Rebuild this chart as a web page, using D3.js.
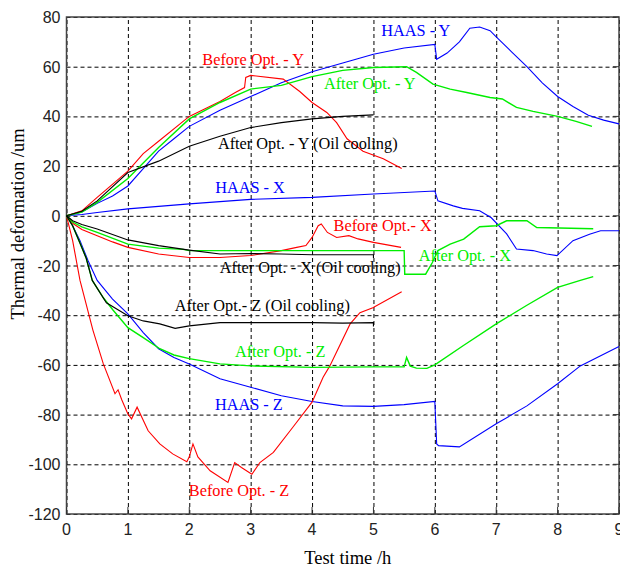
<!DOCTYPE html>
<html>
<head>
<meta charset="utf-8">
<script src="https://cdn.jsdelivr.net/npm/d3@7"></script>
<style>
	body { margin: 0; background: #fff; }
	svg { display: block; }
	.tick-label { font-family: "Liberation Sans", Arial, sans-serif; font-size: 16px; fill: #222; }
	.axis-title, .curve-label { font-family: "Liberation Serif", "Times New Roman", serif; }
</style>
</head>
<body>
<div id="chart"></div>
<script>
	/* thermal deformation vs test time, 12 measured curves */

	// x ticks (h) and y ticks (um)
	var xTicks = [0, 1, 2, 3, 4, 5, 6, 7, 8, 9];
	var yTicks = [-120, -100, -80, -60, -40, -20, 0, 20, 40, 60, 80];

	// each curve: [time h, deformation um]
	var haasY = [[0,0],[0.25,1.5],[0.5,5],[0.75,8],[1,12],[1.25,19],[1.5,26],[1.75,31],[2,36],[2.5,42.5],[3,48],[3.5,53.5],[4,58],[4.5,61.5],[5,65],[5.5,67.5],[6,69],[6.03,63],[6.2,65.5],[6.4,70],[6.57,75.5],[6.73,76],[6.9,74.5],[7,72],[7.25,66],[7.5,60],[7.75,53.5],[8,48],[8.25,44],[8.5,40.5],[8.75,38.5],[9,37]];
	var haasX = [[0,0],[0.25,0.5],[0.5,1.3],[1,2.8],[1.5,3.8],[2,4.8],[3,6.6],[4,7.4],[5,8.8],[6,10],[6.05,6],[6.3,4],[6.45,3],[6.73,2],[6.92,-0.8],[7.17,-7.3],[7.33,-13.4],[7.6,-14],[7.82,-15.4],[7.99,-16],[8.25,-10],[8.52,-7.4],[8.7,-6],[9,-6]];
	var haasZ = [[0,0],[0.1,-4],[0.22,-10],[0.35,-18],[0.5,-26],[0.75,-33.5],[1,-39.5],[1.25,-47],[1.5,-53.5],[1.75,-57],[2,-59.6],[2.5,-65.6],[3,-69],[3.5,-72.4],[4,-74.7],[4.5,-76.5],[5,-76.7],[5.5,-76],[6,-74.7],[6.03,-91.8],[6.06,-92.5],[6.4,-93],[7,-83.7],[7.5,-76.5],[8,-67.6],[8.37,-60.4],[9,-52.6]];

	var beforeY = [[0,0],[0.25,2],[0.5,7.4],[1,18],[1.25,25],[1.5,30],[2,40],[2.5,46],[2.75,49.6],[2.9,51.6],[2.92,55.7],[3.0,56.5],[3.53,55],[3.8,50],[4.0,45.6],[4.24,41.6],[4.4,37.5],[4.57,31],[4.83,26],[5.16,23],[5.46,19]];
	var beforeX = [[0,0],[0.1,-3],[0.25,-5.5],[0.5,-8],[0.75,-10.5],[1,-12.7],[1.5,-15.4],[2,-16.8],[2.5,-16.8],[3,-16],[3.5,-14],[3.75,-12.7],[3.9,-12],[4.0,-8.7],[4.1,-4],[4.15,-3.3],[4.25,-6.7],[4.4,-8.7],[4.6,-8],[4.75,-9.3],[5,-10.7],[5.45,-12.7]];
	var beforeZ = [[0,0],[0.1,-10],[0.22,-26],[0.43,-46],[0.6,-59.6],[0.79,-71.6],[0.84,-70],[0.9,-74],[1.0,-79.7],[1.06,-81.7],[1.15,-77],[1.33,-86.5],[1.52,-91.8],[1.73,-95.8],[1.96,-99],[2.0,-97],[2.06,-91.8],[2.14,-97],[2.34,-102.6],[2.63,-107.3],[2.74,-99.3],[2.85,-101.3],[3.02,-104],[3.15,-99.3],[3.37,-95.2],[3.69,-85],[4.0,-75],[4.18,-65],[4.29,-60.4],[4.62,-43.5],[4.78,-39],[4.99,-37],[5.46,-30.6]];

	var afterY = [[0,0],[0.25,1.5],[0.5,5.4],[1,15],[1.5,27.5],[2,39],[2.5,45.6],[3,51],[3.5,52.5],[4,56],[4.5,58.5],[5,59.7],[5.54,60],[5.7,57.7],[5.97,53],[6.25,51],[6.52,49.6],[6.9,47.6],[7.1,47],[7.33,43.6],[7.6,42],[8,40],[8.3,38],[8.56,36]];
	var afterX = [[0,0],[0.1,-2.5],[0.25,-4.5],[0.5,-6.7],[1,-11.4],[1.5,-13],[1.9,-13.5],[2,-14],[5.5,-14],[5.51,-23.5],[5.85,-23.5],[5.96,-18.8],[6.05,-14],[6.25,-11.4],[6.47,-9.4],[6.73,-4.4],[7,-4],[7.17,-2],[7.5,-2],[7.66,-4.7],[8.58,-5.2]];
	var afterZ = [[0,0],[0.1,-4],[0.22,-11],[0.32,-17],[0.42,-26],[0.6,-33],[0.76,-38],[1,-45],[1.25,-49],[1.52,-53.5],[1.75,-56],[2,-57.5],[2.5,-59.6],[3,-60.4],[4,-61],[5,-60.8],[5.5,-60.8],[5.54,-57],[5.6,-60.5],[5.7,-61.3],[5.87,-61.4],[6,-60],[6.46,-52.3],[7,-43.5],[7.5,-36],[8,-28.8],[8.37,-26],[8.58,-24.5]];

	var oilY = [[0,0],[0.25,1.8],[0.5,6],[1,17.4],[1.5,22],[2,28],[2.5,32],[3,35.5],[3.5,37.5],[4,39],[4.5,40],[5,40.6]];
	var oilX = [[0,0],[0.1,-2],[0.25,-3.5],[0.5,-5.3],[1,-9.7],[1.5,-12],[2,-13.8],[2.5,-15.4],[3,-15.2],[3.5,-15.4],[4,-15.7],[5,-15.7],[5,-17]];
	var oilZ = [[0,0],[0.1,-4],[0.22,-11],[0.32,-17],[0.42,-26],[0.65,-35],[1,-40.2],[1.25,-42.3],[1.52,-43.5],[1.77,-45.3],[2,-44.3],[2.5,-43],[3,-43],[4,-43],[4.5,-43.2],[5,-43],[5,-44.5]];

	// curve names, the array each one uses and its colour
	var curveNames = ["HAAS - Y", "HAAS - X", "HAAS - Z", "Before Opt. - Y", "Before Opt.- X", "Before Opt. - Z",
		"After Opt. - Y", "After Opt. - X", "After Opt. - Z",
		"After Opt. - Y (Oil cooling)", "After Opt. - X (Oil cooling)", "After Opt.- Z (Oil cooling)"];
	var curveData = [haasY, haasX, haasZ, beforeY, beforeX, beforeZ, afterY, afterX, afterZ, oilY, oilX, oilZ];
	var curveColors = ["#0000ff", "#0000ff", "#0000ff", "#ff0000", "#ff0000", "#ff0000",
		"#00ee00", "#00ee00", "#00ee00", "#000000", "#000000", "#000000"];
	// where each curve's name sits, in data units (centre time, baseline value)
	var labelT = [5.69, 2.99, 2.97, 3.04, 5.15, 2.81, 4.94, 6.49, 3.48, 3.93, 3.97, 3.19];
	var labelV = [72.4, 9, -78, 60.5, -6, -112.7, 51, -18, -57, 27, -23.2, -38.2];

	var width = 620, height = 568;
	var plotLeft = 66.5, plotRight = 619, plotTop = 17, plotBottom = 514;

	var svg = d3.select("#chart").append("svg")
		.attr("width", width)
		.attr("height", height);

	var x = d3.scaleLinear().domain([0, 9]).range([plotLeft, plotRight]);
	var y = d3.scaleLinear().domain([-120, 80]).range([plotBottom, plotTop]);

	// dashed grid
	svg.append("g")
		.attr("transform", "translate(0," + plotBottom + ")")
		.call(d3.axisBottom(x).tickValues(xTicks).tickSize(-(plotBottom - plotTop)).tickFormat(""))
		.call(function(g) {
			g.select(".domain").remove();
			g.selectAll("line").attr("stroke", "#000").attr("stroke-dasharray", "4,3");
		});
	svg.append("g")
		.attr("transform", "translate(" + plotLeft + ",0)")
		.call(d3.axisLeft(y).tickValues(yTicks).tickSize(-(plotRight - plotLeft)).tickFormat(""))
		.call(function(g) {
			g.select(".domain").remove();
			g.selectAll("line").attr("stroke", "#000").attr("stroke-dasharray", "4,3");
		});

	// frame
	svg.append("rect")
		.attr("x", plotLeft).attr("y", plotTop)
		.attr("width", plotRight - plotLeft).attr("height", plotBottom - plotTop)
		.attr("fill", "none")
		.attr("stroke", "#444")
		.attr("stroke-width", 1.5);

	// little solid ticks inside the frame
	svg.append("g").selectAll("line")
		.data(xTicks).enter().append("line")
		.attr("x1", function(d) { return x(d); }).attr("x2", function(d) { return x(d); })
		.attr("y1", plotBottom).attr("y2", plotBottom - 7)
		.attr("stroke", "#333");
	svg.append("g").selectAll("line")
		.data(yTicks).enter().append("line")
		.attr("x1", plotRight).attr("x2", plotRight - 6)
		.attr("y1", function(d) { return y(d); }).attr("y2", function(d) { return y(d); })
		.attr("stroke", "#333");

	// tick labels
	svg.append("g").selectAll("text")
		.data(xTicks).enter().append("text")
		.attr("class", "tick-label")
		.attr("x", function(d) { return x(d); })
		.attr("y", plotBottom + 21)
		.attr("text-anchor", "middle")
		.text(function(d) { return d; });
	svg.append("g").selectAll("text")
		.data(yTicks).enter().append("text")
		.attr("class", "tick-label")
		.attr("x", plotLeft - 6)
		.attr("y", function(d) { return y(d) + 6; })
		.attr("text-anchor", "end")
		.text(function(d) { return d; });

	// curves
	var line = d3.line()
		.x(function(d) { return x(d[0]); })
		.y(function(d) { return y(d[1]); });

	svg.append("g").selectAll("path")
		.data(curveData).enter().append("path")
		.attr("d", line)
		.attr("fill", "none")
		.attr("stroke", function(d, i) { return curveColors[i]; })
		.attr("stroke-width", function(d, i) { return curveColors[i] == "#00ee00" ? 1.4 : 1.1; });

	// curve names
	svg.append("g").selectAll("text")
		.data(curveNames).enter().append("text")
		.attr("class", "curve-label")
		.attr("x", function(d, i) { return x(labelT[i]); })
		.attr("y", function(d, i) { return y(labelV[i]); })
		.attr("text-anchor", "middle")
		.attr("font-size", "16.3px")
		.attr("fill", function(d, i) { return curveColors[i]; })
		.text(function(d) { return d; });

	// axis titles
	svg.append("text")
		.attr("class", "axis-title")
		.attr("x", (plotLeft + plotRight) / 2 + 5)
		.attr("y", 564)
		.attr("text-anchor", "middle")
		.attr("font-size", "18.5px")
		.text("Test time /h");
	svg.append("text")
		.attr("class", "axis-title")
		.attr("transform", "translate(24,224) rotate(-90)")
		.attr("text-anchor", "middle")
		.attr("font-size", "18.5px")
		.text("Thermal deformation /um");
</script>
</body>
</html>
